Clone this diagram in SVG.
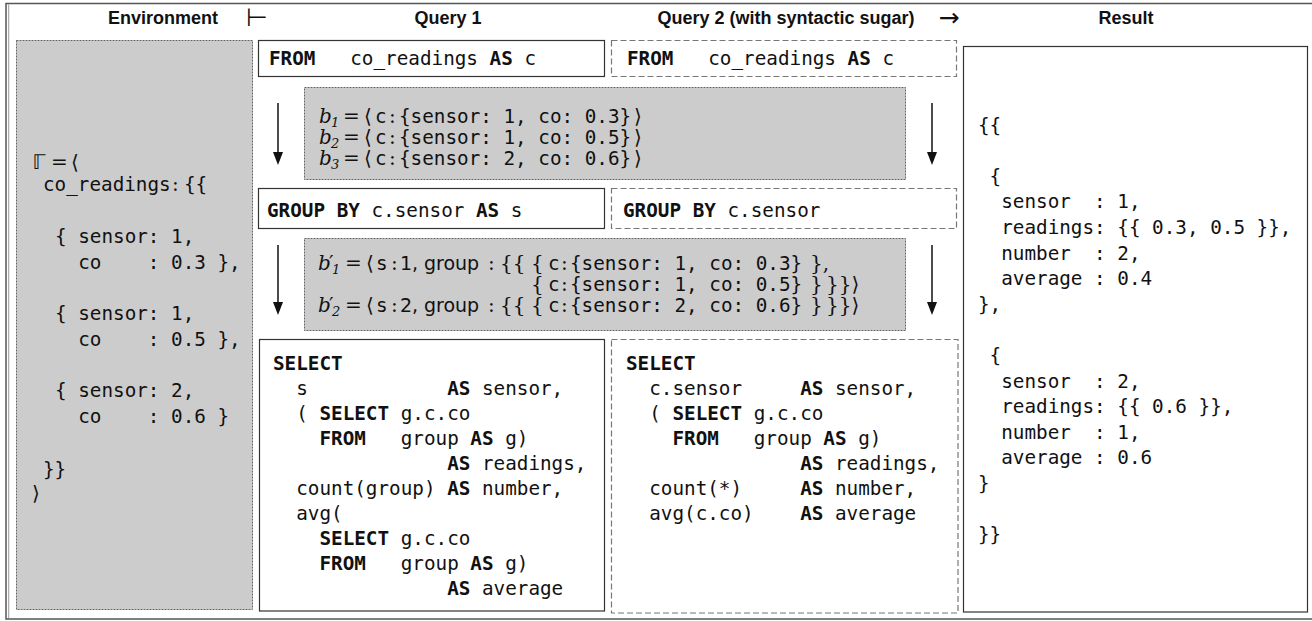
<svg xmlns="http://www.w3.org/2000/svg" width="1312" height="621" viewBox="0 0 1312 621">
<style>
.hdr{font-family:"Liberation Sans",Arial,sans-serif;font-weight:bold;font-size:18px;text-anchor:middle;fill:#111}
.sym{font-family:"DejaVu Sans",sans-serif;font-size:20px;fill:#111;text-anchor:middle}
.big{font-size:25px}
.mono{font-family:"DejaVu Sans Mono","Liberation Mono",monospace;font-size:19.3px;fill:#111;white-space:pre}
.kw{font-weight:bold}
.math{font-family:"DejaVu Serif","Liberation Serif",serif;font-size:20px;fill:#111}
.mi{font-family:"DejaVu Serif","Liberation Serif",serif;font-style:italic;font-size:20px;fill:#111}
.sub{font-family:"DejaVu Serif","Liberation Serif",serif;font-style:italic;font-size:13px;fill:#111}
.prop{font-family:"DejaVu Sans",sans-serif;font-size:19px;fill:#111}
.gray{fill:#cccccc;stroke:#666;stroke-width:1;stroke-dasharray:2 1}
.solid{fill:#fff;stroke:#333;stroke-width:1.2}
.dash{fill:#fff;stroke:#777;stroke-width:1.2;stroke-dasharray:6 3}
.arrow{stroke:#111;stroke-width:1.5;fill:none;marker-end:url(#ah)}
</style>
<defs>
<marker id="ah" viewBox="0 0 13 10" refX="8" refY="5" markerWidth="13" markerHeight="10" markerUnits="userSpaceOnUse" orient="auto">
<path d="M0,0 L13,5 L0,10 z" fill="#111"/>
</marker>
</defs>
<rect x="0" y="0" width="1312" height="621" fill="#fff"/>
<g id="frame">
<rect x="6" y="3.5" width="1312" height="615.5" fill="none" stroke="#555" stroke-width="1.5"/>
<line x1="8.7" y1="4.5" x2="8.7" y2="618" stroke="#999" stroke-width="1"/>
</g>
<g id="headers">
<text class="hdr" x="163" y="24">Environment</text>
<text class="sym big" x="257" y="26">⊢</text>
<text class="hdr" x="448" y="24">Query 1</text>
<text class="hdr" x="786" y="24">Query 2 (with syntactic sugar)</text>
<text class="sym big" x="949" y="26">→</text>
<text class="hdr" x="1126" y="24">Result</text>
</g>
<g id="environment">
<rect class="gray" x="16.5" y="40.5" width="236" height="569"/>
<text class="sym" x="39" y="168.5">ℾ</text>
<text class="math" x="51" y="168.5">=</text>
<text class="math" x="71" y="168.5">⟨</text>
<text class="mono" x="43" y="190.5">co_readings</text>
<text class="math" x="172" y="190.5">:</text>
<text class="mono" x="184" y="190.5">{{</text>
<text class="mono" x="55" y="242.5" xml:space="preserve">{ sensor: 1,</text>
<text class="mono" x="55" y="268.5" xml:space="preserve">  co    : 0.3 },</text>
<text class="mono" x="55" y="319.5" xml:space="preserve">{ sensor: 1,</text>
<text class="mono" x="55" y="345.5" xml:space="preserve">  co    : 0.5 },</text>
<text class="mono" x="55" y="396.5" xml:space="preserve">{ sensor: 2,</text>
<text class="mono" x="55" y="422.5" xml:space="preserve">  co    : 0.6 }</text>
<text class="mono" x="43" y="475.5">}}</text>
<text class="math" x="32" y="499.5">⟩</text>
</g>
<g id="q1-from">
<rect class="solid" x="258.5" y="40.5" width="346" height="36"/>
<text class="mono" x="269" y="64.5" xml:space="preserve"><tspan class="kw">FROM</tspan>   co_readings <tspan class="kw">AS</tspan> c</text>
</g>
<g id="q2-from">
<rect class="dash" x="611.5" y="40.5" width="345" height="36"/>
<text class="mono" x="627" y="64.5" xml:space="preserve"><tspan class="kw">FROM</tspan>   co_readings <tspan class="kw">AS</tspan> c</text>
</g>
<g id="bindings1">
<rect class="gray" x="304.5" y="87.5" width="601" height="92"/>
<text class="mi" x="319" y="122.5">b</text><text class="sub" x="331" y="126.5">1</text>
<text class="math" x="343" y="122.5">=</text><text class="math" x="364" y="122.5">⟨</text>
<text class="mono" x="375" y="122.5">c</text><text class="math" x="389" y="122.5">:</text>
<text class="mono" x="399" y="122.5" xml:space="preserve">{sensor: 1, co: 0.3}</text>
<text class="math" x="634" y="122.5">⟩</text>
<text class="mi" x="319" y="143.5">b</text><text class="sub" x="331" y="147.5">2</text>
<text class="math" x="343" y="143.5">=</text><text class="math" x="364" y="143.5">⟨</text>
<text class="mono" x="375" y="143.5">c</text><text class="math" x="389" y="143.5">:</text>
<text class="mono" x="399" y="143.5" xml:space="preserve">{sensor: 1, co: 0.5}</text>
<text class="math" x="634" y="143.5">⟩</text>
<text class="mi" x="319" y="164.5">b</text><text class="sub" x="331" y="168.5">3</text>
<text class="math" x="343" y="164.5">=</text><text class="math" x="364" y="164.5">⟨</text>
<text class="mono" x="375" y="164.5">c</text><text class="math" x="389" y="164.5">:</text>
<text class="mono" x="399" y="164.5" xml:space="preserve">{sensor: 2, co: 0.6}</text>
<text class="math" x="634" y="164.5">⟩</text>
</g>
<g id="q1-groupby">
<rect class="solid" x="258.5" y="188.5" width="346" height="40"/>
<text class="mono" x="267" y="216.5" xml:space="preserve"><tspan class="kw">GROUP BY</tspan> c.sensor <tspan class="kw">AS</tspan> s</text>
</g>
<g id="q2-groupby">
<rect class="dash" x="611.5" y="188.5" width="345" height="40"/>
<text class="mono" x="623" y="216.5" xml:space="preserve"><tspan class="kw">GROUP BY</tspan> c.sensor</text>
</g>
<g id="bindings2">
<rect class="gray" x="304.5" y="238.5" width="601" height="92"/>
<text class="mi" x="318" y="269.5">b</text><text class="math" x="329" y="269.5">′</text><text class="sub" x="332" y="273.5">1</text>
<text class="math" x="345" y="269.5">=</text><text class="math" x="366" y="269.5">⟨</text>
<text class="mono" x="376" y="269.5">s</text><text class="math" x="391" y="269.5">:</text>
<text class="prop" x="400" y="269.5">1,</text>
<text class="prop" x="424" y="269.5">group</text><text class="math" x="488" y="269.5">:</text>
<text class="math" x="500" y="269.5">{{</text>
<text class="math" x="531" y="269.5">{</text>
<text class="mono" x="548" y="269.5">c</text><text class="math" x="561" y="269.5">:</text>
<text class="mono" x="570" y="269.5" xml:space="preserve">{sensor: 1, co: 0.3}</text>
<text class="math" x="810" y="269.5">},</text>
<text class="math" x="531" y="290.5">{</text>
<text class="mono" x="548" y="290.5">c</text><text class="math" x="561" y="290.5">:</text>
<text class="mono" x="570" y="290.5" xml:space="preserve">{sensor: 1, co: 0.5}</text>
<text class="math" x="810" y="290.5">}</text>
<text class="math" x="826" y="290.5">}}⟩</text>
<text class="mi" x="318" y="311.5">b</text><text class="math" x="329" y="311.5">′</text><text class="sub" x="332" y="315.5">2</text>
<text class="math" x="345" y="311.5">=</text><text class="math" x="366" y="311.5">⟨</text>
<text class="mono" x="376" y="311.5">s</text><text class="math" x="391" y="311.5">:</text>
<text class="prop" x="400" y="311.5">2,</text>
<text class="prop" x="424" y="311.5">group</text><text class="math" x="488" y="311.5">:</text>
<text class="math" x="500" y="311.5">{{</text>
<text class="math" x="531" y="311.5">{</text>
<text class="mono" x="548" y="311.5">c</text><text class="math" x="561" y="311.5">:</text>
<text class="mono" x="570" y="311.5" xml:space="preserve">{sensor: 2, co: 0.6}</text>
<text class="math" x="810" y="311.5">}</text>
<text class="math" x="826" y="311.5">}}⟩</text>
</g>
<g id="q1-select">
<rect class="solid" x="259.5" y="339.5" width="345" height="271.5"/>
<text class="mono" x="273" y="369.5" xml:space="preserve"><tspan class="kw">SELECT</tspan></text>
<text class="mono" x="273" y="394.5" xml:space="preserve">  s            <tspan class="kw">AS</tspan> sensor,</text>
<text class="mono" x="273" y="419.5" xml:space="preserve">  ( <tspan class="kw">SELECT</tspan> g.c.co</text>
<text class="mono" x="273" y="444.5" xml:space="preserve">    <tspan class="kw">FROM</tspan>   group <tspan class="kw">AS</tspan> g)</text>
<text class="mono" x="273" y="469.5" xml:space="preserve">               <tspan class="kw">AS</tspan> readings,</text>
<text class="mono" x="273" y="494.5" xml:space="preserve">  count(group) <tspan class="kw">AS</tspan> number,</text>
<text class="mono" x="273" y="519.5" xml:space="preserve">  avg(</text>
<text class="mono" x="273" y="544.5" xml:space="preserve">    <tspan class="kw">SELECT</tspan> g.c.co</text>
<text class="mono" x="273" y="569.5" xml:space="preserve">    <tspan class="kw">FROM</tspan>   group <tspan class="kw">AS</tspan> g)</text>
<text class="mono" x="273" y="594.5" xml:space="preserve">               <tspan class="kw">AS</tspan> average</text>
</g>
<g id="q2-select">
<rect class="dash" x="611.5" y="339.5" width="346.5" height="273.5"/>
<text class="mono" x="626" y="369.5" xml:space="preserve"><tspan class="kw">SELECT</tspan></text>
<text class="mono" x="626" y="394.5" xml:space="preserve">  c.sensor     <tspan class="kw">AS</tspan> sensor,</text>
<text class="mono" x="626" y="419.5" xml:space="preserve">  ( <tspan class="kw">SELECT</tspan> g.c.co</text>
<text class="mono" x="626" y="444.5" xml:space="preserve">    <tspan class="kw">FROM</tspan>   group <tspan class="kw">AS</tspan> g)</text>
<text class="mono" x="626" y="469.5" xml:space="preserve">               <tspan class="kw">AS</tspan> readings,</text>
<text class="mono" x="626" y="494.5" xml:space="preserve">  count(*)     <tspan class="kw">AS</tspan> number,</text>
<text class="mono" x="626" y="519.5" xml:space="preserve">  avg(c.co)    <tspan class="kw">AS</tspan> average</text>
</g>
<g id="result">
<rect class="solid" x="963.5" y="46.5" width="344" height="565.5"/>
<text class="mono" x="978" y="131.5" xml:space="preserve">{{</text>
<text class="mono" x="978" y="182.7" xml:space="preserve"> {</text>
<text class="mono" x="978" y="208.3" xml:space="preserve">  sensor  : 1,</text>
<text class="mono" x="978" y="233.9" xml:space="preserve">  readings: {{ 0.3, 0.5 }},</text>
<text class="mono" x="978" y="259.5" xml:space="preserve">  number  : 2,</text>
<text class="mono" x="978" y="285.1" xml:space="preserve">  average : 0.4</text>
<text class="mono" x="978" y="310.7" xml:space="preserve">},</text>
<text class="mono" x="978" y="361.9" xml:space="preserve"> {</text>
<text class="mono" x="978" y="387.5" xml:space="preserve">  sensor  : 2,</text>
<text class="mono" x="978" y="413.1" xml:space="preserve">  readings: {{ 0.6 }},</text>
<text class="mono" x="978" y="438.7" xml:space="preserve">  number  : 1,</text>
<text class="mono" x="978" y="464.3" xml:space="preserve">  average : 0.6</text>
<text class="mono" x="978" y="489.9" xml:space="preserve">}</text>
<text class="mono" x="978" y="541.1" xml:space="preserve">}}</text>
</g>
<g id="connectors">
<line class="arrow" x1="278" y1="103" x2="278" y2="160"/>
<line class="arrow" x1="932" y1="103" x2="932" y2="160"/>
<line class="arrow" x1="278" y1="245" x2="278" y2="310"/>
<line class="arrow" x1="932" y1="245" x2="932" y2="310"/>
</g>
</svg>
